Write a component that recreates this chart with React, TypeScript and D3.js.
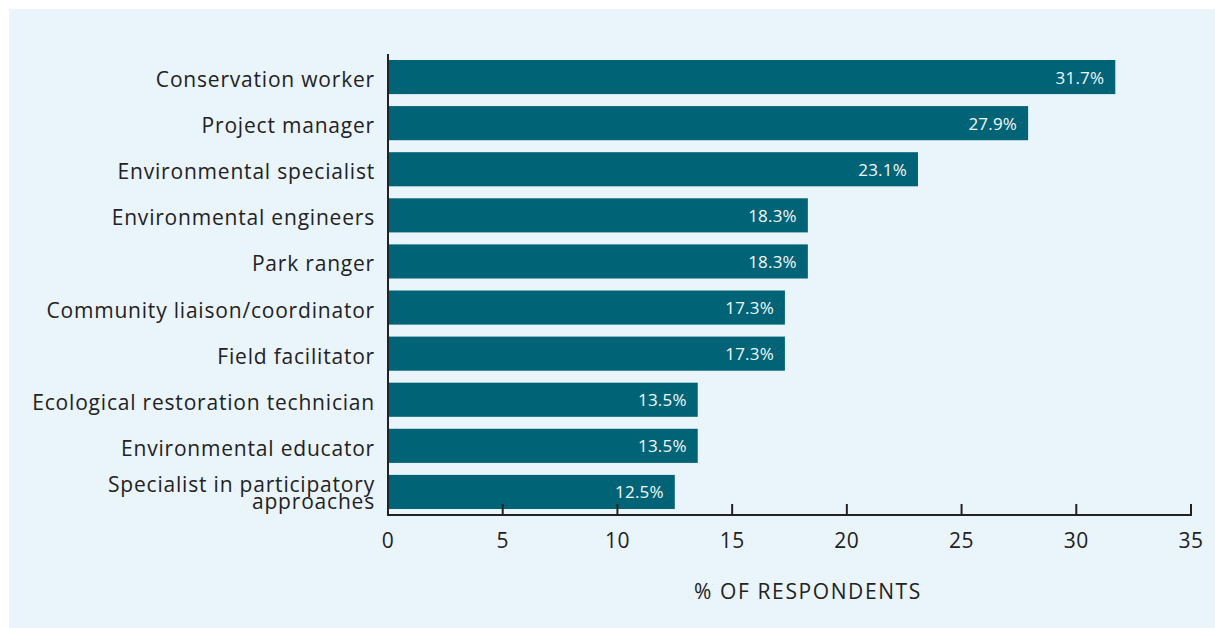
import React from "react";
import * as d3 from "d3";

const categories: string[][] = [
  ["Conservation worker"],
  ["Project manager"],
  ["Environmental specialist"],
  ["Environmental engineers"],
  ["Park ranger"],
  ["Community liaison/coordinator"],
  ["Field facilitator"],
  ["Ecological restoration technician"],
  ["Environmental educator"],
  ["Specialist in participatory", "approaches"],
];
const values: number[] = [31.7, 27.9, 23.1, 18.3, 18.3, 17.3, 17.3, 13.5, 13.5, 12.5];
const xTicks: number[] = [0, 5, 10, 15, 20, 25, 30, 35];
const axisTitle = "% OF RESPONDENTS";

const W = 1215;
const H = 628;
const FONT = "'Open Sans', 'DejaVu Sans', sans-serif";

export default function App() {
  const x = d3.scaleLinear().domain([0, 35]).range([388, 1191]);
  const ids = categories.map((_, i) => String(i));
  const y = d3.scaleBand().domain(ids).range([54, 515]).paddingInner(0.26).paddingOuter(0.13);
  const axisY = 515;
  const x0 = x(0);
  return (
    <svg
      width={W}
      height={H}
      style={{ display: "block", position: "absolute", left: 0, top: 0 }}
      fontFamily={FONT}
    >
      <rect x={9} y={9} width={W - 9} height={H - 9} fill="#EAF4FB" />
      {values.map((v, i) => {
        const yy = y(String(i))!;
        const bw = y.bandwidth();
        const cy = yy + bw / 2;
        const lines = categories[i];
        return (
          <g key={i}>
            <rect x={x0} y={yy} width={x(v) - x0} height={bw} fill="#006476" />
            <text x={x(v) - 11} y={cy + 6.5} textAnchor="end" fill="#F4F8FA" fontSize={17} letterSpacing={0.2}>
              {v.toFixed(1) + "%"}
            </text>
            {lines.map((line, j) => (
              <text
                key={j}
                x={x0 - 13}
                y={lines.length === 1 ? cy + 10 : cy + j * 17}
                textAnchor="end"
                fill="#222222"
                fontSize={21}
                letterSpacing={0.8}
              >
                {line}
              </text>
            ))}
          </g>
        );
      })}
      <line x1={x0} x2={x0} y1={54} y2={axisY} stroke="#222" strokeWidth={2} />
      <line x1={x0 - 1} x2={x(35) + 1} y1={axisY} y2={axisY} stroke="#222" strokeWidth={2} />
      {xTicks.map((t) => (
        <g key={t}>
          <line x1={x(t)} x2={x(t)} y1={axisY} y2={axisY - 11} stroke="#222" strokeWidth={2} />
          <text x={x(t)} y={548} textAnchor="middle" fill="#222" fontSize={21} letterSpacing={0.5}>
            {t}
          </text>
        </g>
      ))}
      <text x={808} y={599} textAnchor="middle" fill="#222" fontSize={21} letterSpacing={1.6}>
        {axisTitle}
      </text>
    </svg>
  );
}
